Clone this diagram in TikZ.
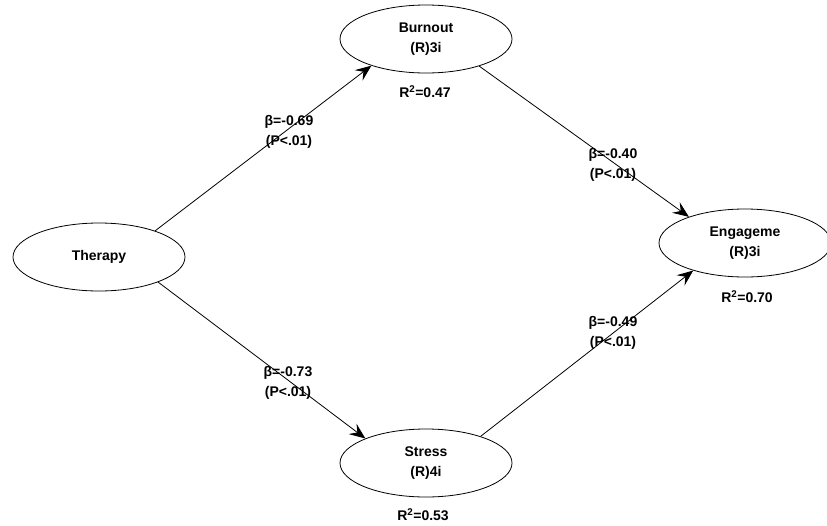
\documentclass[tikz,border=0pt]{standalone}
\usepackage{fontspec}
\setmainfont{Liberation Sans}
\usetikzlibrary{shapes.geometric,arrows.meta}
\begin{document}
\begin{tikzpicture}[x=1pt,y=-1pt,
  lv/.style={ellipse,draw,line width=0.8pt,minimum width=172pt,minimum height=68pt,inner sep=0pt,align=center,
    font=\fontsize{14}{20}\selectfont\bfseries},
  lab/.style={align=center,inner sep=0pt,font=\fontsize{14}{20}\selectfont\bfseries},
  path/.style={line width=0.8pt,-{Stealth[length=16pt,width=13pt,inset=6pt]}}]
\useasboundingbox (0,0) rectangle (827,525);
\node[lv] (ther) at (99,257) {Therapy};
\node[lv] (burn) at (426,39) {Burnout\\(R)3i};
\node[lv] (eng) at (745,243) {Engageme\\(R)3i};
\node[lv] (str) at (426,463) {Stress\\(R)4i};
\node[lab] (r1) at (425,92) {R\textsuperscript{2}=0.47};
\node[lab] (r2) at (747,297) {R\textsuperscript{2}=0.70};
\node[lab] (r3) at (423,515) {R\textsuperscript{2}=0.53};
\draw[path] (ther.25) -- (burn.206);
\draw[path] (burn.333) -- (eng.155);
\draw[path] (ther.-23) -- (str.158);
\draw[path] (str.26) -- (eng.208);
\node[lab] (b1) at (289,132) {β=-0.69\\(P<.01)};
\node[lab] (b2) at (613,165) {β=-0.40\\(P<.01)};
\node[lab] (b3) at (288,383) {β=-0.73\\(P<.01)};
\node[lab] (b4) at (613,333) {β=-0.49\\(P<.01)};
\end{tikzpicture}
\end{document}
